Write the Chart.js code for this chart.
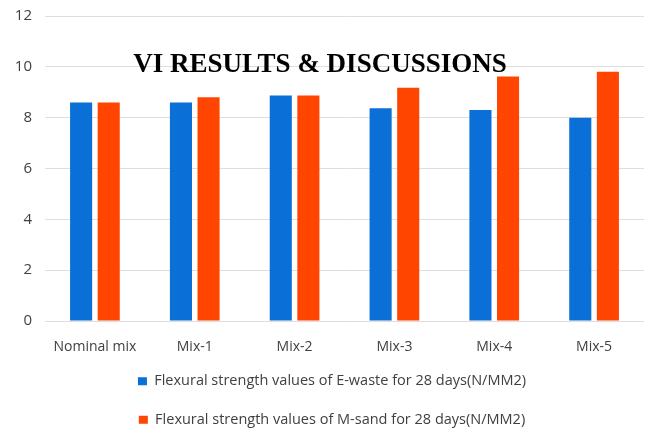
<!DOCTYPE html>
<html>
<head>
<meta charset="utf-8">
<script src="https://cdn.jsdelivr.net/npm/chart.js@4.4.1/dist/chart.umd.min.js"></script>
<style>
  body { margin: 0; background: #fff; }
  #wrap { position: relative; width: 650px; height: 432px; }
  #title {
    position: absolute; left: -5px; width: 650px; top: 50px; text-align: center;
    font: bold 27px "Liberation Serif", "Times New Roman", serif; line-height: 27px;
    color: #000; pointer-events: none;
  }
</style>
</head>
<body>
<div id="wrap">
  <canvas id="myChart" width="650" height="432"></canvas>
  <div id="title">VI RESULTS &amp; DISCUSSIONS</div>
</div>
<script>
// chart data
const mixes = ['Nominal mix', 'Mix-1', 'Mix-2', 'Mix-3', 'Mix-4', 'Mix-5'];
const eWaste = [8.6, 8.6, 8.87, 8.37, 8.3, 8.0];
const mSand = [8.6, 8.8, 8.87, 9.18, 9.62, 9.81];
const seriesNames = [
    'Flexural strength values of E-waste for 28 days(N/MM2)',
    'Flexural strength values of M-sand for 28 days(N/MM2)'
];
const yTicks = [0, 2, 4, 6, 8, 10, 12];

const textColor = '#404040';

const chartData = {
    labels: mixes,
    datasets: [{
        label: seriesNames[0],
        backgroundColor: '#0a6fd6',
        data: eWaste
    }, {
        label: seriesNames[1],
        backgroundColor: '#ff4500',
        data: mSand
    }]
};

// legend is shorter than chart.js wants, then nudged so rows sit where the original has them
const legendPlace = {
    id: 'legendPlace',
    beforeLayout: (chart) => {
        const lg = chart.legend;
        if (lg && !lg._patched) {
            const fit = lg.fit;
            lg.fit = function () {
                fit.call(this);
                this.height = 74;
            };
            lg._patched = true;
        }
    },
    afterLayout: (chart) => {
        const lg = chart.legend;
        lg.top -= 8;
        lg.left += 10;
        lg.right += 10;
    }
};

const config = {
    type: 'bar',
    data: chartData,
    options: {
        responsive: false,
        animation: false,
        layout: {
            padding: { top: 16, right: 6, left: 0, bottom: 0 }
        },
        datasets: {
            bar: { categoryPercentage: 0.553, barPercentage: 0.8 }
        },
        scales: {
            x: {
                grid: { display: false },
                border: { display: false },
                ticks: {
                    color: textColor,
                    padding: 10,
                    font: { family: 'Open Sans', size: 14 }
                },
                afterFit: (scale) => { scale.height = 37; }
            },
            y: {
                min: yTicks[0],
                max: yTicks[yTicks.length - 1],
                afterBuildTicks: (scale) => {
                    scale.ticks = yTicks.map(v => ({ value: v }));
                },
                grid: { color: '#dedede', drawTicks: false },
                border: { display: false },
                ticks: {
                    color: textColor,
                    padding: 13,
                    font: { family: 'Open Sans', size: 15 }
                },
                afterFit: (scale) => {
                    scale.width = 45;
                    scale.paddingTop = 0;
                    scale.paddingBottom = 0;
                }
            }
        },
        plugins: {
            legend: {
                position: 'bottom',
                labels: {
                    boxWidth: 9,
                    boxHeight: 8,
                    padding: 24,
                    color: textColor,
                    font: { family: 'Open Sans', size: 14.5 }
                }
            },
            tooltip: { enabled: false }
        }
    },
    plugins: [legendPlace]
};

var myChart = new Chart(document.getElementById('myChart'), config);
</script>
</body>
</html>
